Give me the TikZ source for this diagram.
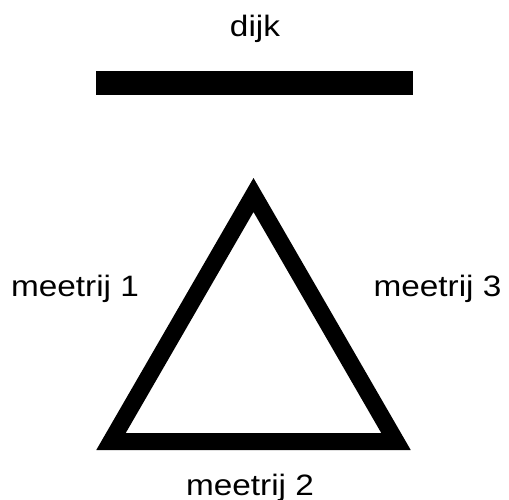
\documentclass[tikz,border=0pt]{standalone}
\usepackage{fontspec}
\setmainfont{Liberation Sans}
\begin{document}
\begin{tikzpicture}[x=1pt,y=-1pt,
  lbl/.style={anchor=base,inner sep=0pt,font=\fontsize{29.5}{31}\selectfont,xscale=1.13},
  edge/.style={line width=17pt,line join=miter}]
\useasboundingbox (0,0) rectangle (509,500);
\fill[white] (0,0) rectangle (509,500);
\node[lbl] (dijk) at (255,36.5) {dijk};
\node[fill=black,minimum width=317pt,minimum height=24pt,inner sep=0pt] (bar) at (254.5,83) {};
\coordinate (apex) at (253.5,195);
\coordinate (bl) at (111,441.5);
\coordinate (br) at (396,441.5);
\draw[edge] (apex) -- (bl) -- (br) -- cycle;
\node[lbl] (m1) at (75,296.5) {meetrij 1};
\node[lbl] (m3) at (437.5,296.5) {meetrij 3};
\node[lbl] (m2) at (250,495) {meetrij 2};
\end{tikzpicture}
\end{document}
